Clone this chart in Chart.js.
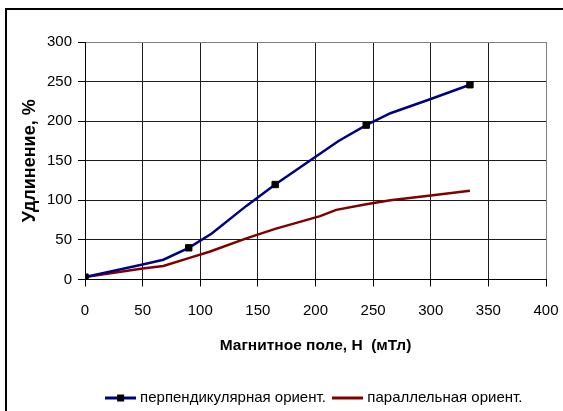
<!DOCTYPE html>
<html>
<head>
<meta charset="utf-8">
<title>Удлинение</title>
<script src="https://cdn.jsdelivr.net/npm/chart.js@4/dist/chart.umd.min.js"></script>
<style>
    html, body { margin: 0; padding: 0; background: #fff; }
    canvas { display: block; }
</style>
</head>
<body>
<canvas id="elongationChart" width="563" height="411"></canvas>
<script>
// Data
const perpField = [0, 50, 68, 90, 110, 140, 165, 195, 220, 244, 265, 300, 334];
const perpElong = [3, 19, 25, 40, 58, 93, 120, 150, 175, 195, 210, 228, 246];
const parField = [0, 50, 68, 90, 108, 140, 165, 204, 218, 244, 265, 300, 334];
const parElong = [3, 14, 17, 27, 35, 52, 64, 80, 88, 95, 100, 106, 112];
const seriesNames = ['перпендикулярная ориент.', 'параллельная ориент.'];
const xTicks = [0, 50, 100, 150, 200, 250, 300, 350, 400];
const yTicks = [0, 50, 100, 150, 200, 250, 300];
const xTitle = 'Магнитное поле, Н  (мТл)';
const yTitle = 'Удлинение, %';

const FONT = "'Liberation Sans', Arial, sans-serif";
const BLUE = '#000080';
const RED = '#800000';

function toPoints(xs, ys) {
    return xs.map((x, i) => ({ x: x, y: ys[i] }));
}

// legend swatches: line with marker / plain line
function legendSwatch(color, withMarker) {
    const c = document.createElement('canvas');
    c.width = 31;
    c.height = 9;
    const g = c.getContext('2d');
    g.fillStyle = color;
    g.fillRect(0, 3, 31, 3);
    if (withMarker) {
        g.fillStyle = '#000';
        g.fillRect(12, 1, 7, 7);
    }
    return c;
}

const outerFrame = {
    id: 'outerFrame',
    beforeDraw(chart) {
        const ctx = chart.ctx;
        ctx.save();
        ctx.fillStyle = '#fff';
        ctx.fillRect(0, 0, chart.width, chart.height);
        ctx.strokeStyle = '#000';
        ctx.lineWidth = 2;
        ctx.strokeRect(6, 9, 700, 700);
        ctx.restore();
    }
};

const ctx = document.getElementById('elongationChart').getContext('2d');

new Chart(ctx, {
    type: 'line',
    data: {
        datasets: [{
            label: seriesNames[0],
            data: toPoints(perpField, perpElong),
            borderColor: BLUE,
            borderWidth: 2.5,
            pointStyle: 'rect',
            pointRadius: (c) => (c.dataIndex % 3 === 0 ? 4.5 : 0),
            pointBackgroundColor: '#000',
            pointBorderColor: '#000',
            pointBorderWidth: 1,
            tension: 0,
            fill: false
        }, {
            label: seriesNames[1],
            data: toPoints(parField, parElong),
            borderColor: RED,
            borderWidth: 2.5,
            pointRadius: 0,
            tension: 0,
            fill: false
        }]
    },
    options: {
        responsive: false,
        animation: false,
        devicePixelRatio: 1,
        layout: {
            padding: { left: 8, top: 42, right: 17, bottom: -4.5 }
        },
        plugins: {
            tooltip: { enabled: false },
            legend: {
                position: 'bottom',
                fullSize: false,
                labels: {
                    usePointStyle: true,
                    pointStyleWidth: 24,
                    padding: 10,
                    color: '#000',
                    font: { family: FONT, size: 15 },
                    generateLabels: () => [
                        { text: seriesNames[0], pointStyle: legendSwatch(BLUE, true), datasetIndex: 0, lineWidth: 0, fontColor: '#000' },
                        { text: seriesNames[1], pointStyle: legendSwatch(RED, false), datasetIndex: 1, lineWidth: 0, fontColor: '#000' }
                    ]
                }
            }
        },
        scales: {
            x: {
                type: 'linear',
                min: 0,
                max: 400,
                afterBuildTicks: (s) => { s.ticks = xTicks.map(v => ({ value: v })); },
                afterFit: (s) => {
                    s.height = 101;
                    s.paddingLeft = 0;
                    s.paddingRight = 0;
                },
                grid: {
                    color: (c) => (c.tick && c.tick.value === 400 ? '#808080' : '#1c1c1c'),
                    lineWidth: 1,
                    tickLength: 7,
                    tickColor: '#000'
                },
                border: { color: '#000', width: 1 },
                ticks: {
                    color: '#000',
                    padding: 15,
                    maxRotation: 0,
                    font: { family: FONT, size: 15 }
                },
                title: {
                    display: true,
                    text: xTitle,
                    color: '#000',
                    padding: { top: 0, bottom: 25.5 },
                    font: { family: FONT, size: 15.5, weight: 'bold' }
                }
            },
            y: {
                min: 0,
                max: 300,
                afterBuildTicks: (s) => { s.ticks = yTicks.map(v => ({ value: v })); },
                afterFit: (s) => { s.width = 77; },
                grid: {
                    color: (c) => (c.tick && c.tick.value === 300 ? '#808080' : '#1c1c1c'),
                    lineWidth: 1,
                    tickLength: 7,
                    tickColor: '#000'
                },
                border: { color: '#000', width: 1 },
                ticks: {
                    color: '#000',
                    padding: 6,
                    font: { family: FONT, size: 15 }
                },
                title: {
                    display: true,
                    text: yTitle,
                    color: '#000',
                    padding: { top: 11.5, bottom: 0 },
                    font: { family: FONT, size: 18, weight: 'bold' }
                }
            }
        }
    },
    plugins: [outerFrame]
});
</script>
</body>
</html>
